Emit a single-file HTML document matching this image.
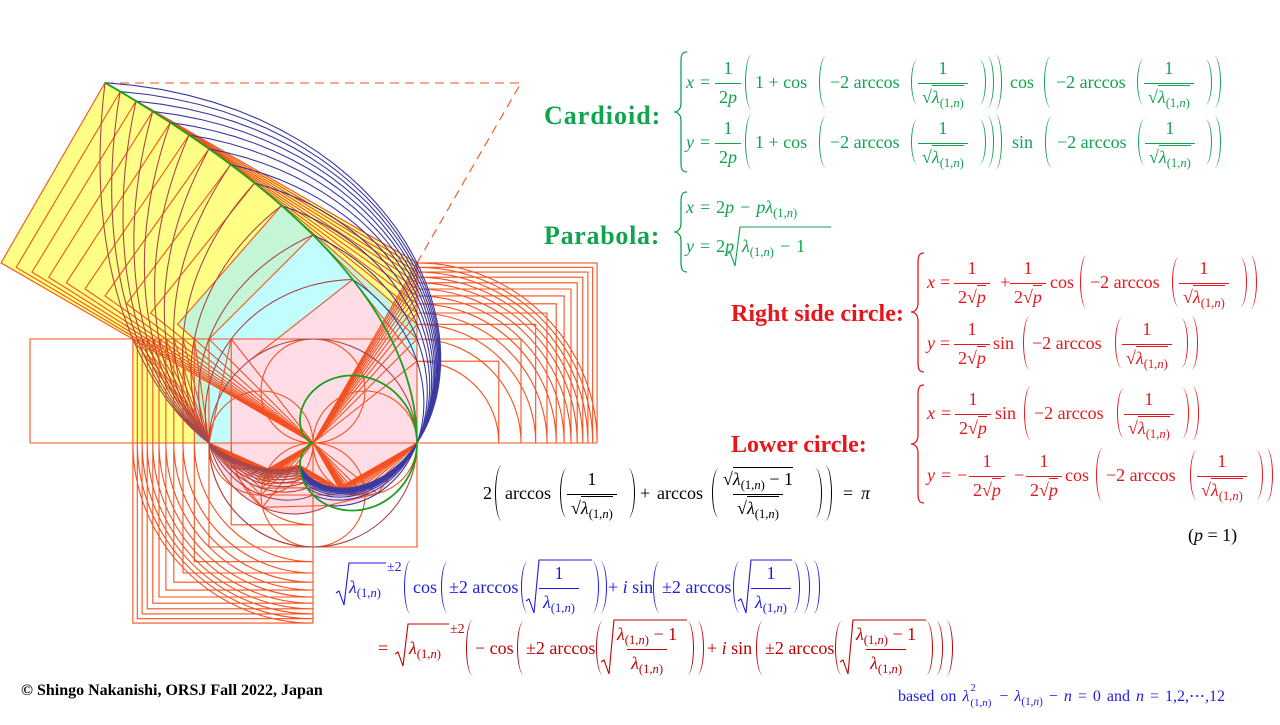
<!DOCTYPE html>
<html><head><meta charset="utf-8">
<style>
body{margin:0;background:#fff;width:1280px;height:720px;overflow:hidden;position:relative;font-family:"Liberation Serif","DejaVu Serif",serif}
#fig{position:absolute;left:0;top:0;width:1280px;height:720px}
.r{position:absolute;left:0;width:1280px;height:80px}
.a{position:absolute;top:0;height:80px;display:flex;align-items:center;white-space:nowrap;font-size:18px}
.F{display:flex;flex-direction:column;align-items:center}
.F>span{line-height:20px;padding:0 4px;white-space:nowrap}
.F>span:first-child{padding-bottom:5px}
.F>span:last-child{border-top:1px solid;padding-top:3px}
.l{display:inline-block;width:6px;border-left:1.4px solid;border-radius:100% 0 0 100%/50% 0 0 50%}
.q{display:inline-block;width:6px;border-right:1.4px solid;border-radius:0 100% 100% 0/0 50% 50% 0}
.h46{height:46px}.h50{height:50px}.h52{height:52px}.h54{height:54px}.h56{height:56px}
.ov{border-top:1px solid;padding-top:1px}
sub{font-size:70%;vertical-align:-4px;line-height:0}
.m{margin:0 6px}
.lab{position:absolute;font-weight:bold;line-height:30px;white-space:nowrap}
.G{color:#10a350}.R{color:#e8161b}.K{color:#000}.B{color:#1c1ce6}.D{color:#c00000}
.sup{position:absolute;font-size:14px;line-height:16px}
.ss{display:inline-block;position:relative;width:24px;height:12px;vertical-align:middle}
.ss .u{position:absolute;left:1px;top:-9px;font-size:11px;line-height:12px}
.ss .w{position:absolute;left:1px;top:6px;font-size:11px;line-height:12px}
</style></head>
<body>
<div id="fig"></div>
<svg width="1280" height="720" style="position:absolute;left:0;top:0" fill="none" stroke-width="1.3">
<path stroke="#10a350" d="M687 52 C682 52 681 55 681 62 L681 103 C681 109 678 112 674 112 C678 112 681 115 681 121 L681 162 C681 169 682 172 687 172"/>
<path stroke="#10a350" d="M687 192 C682 192 681 195 681 202 L681 223 C681 229 678 232 674 232 C678 232 681 235 681 241 L681 262 C681 269 682 272 687 272"/>
<path stroke="#e8161b" d="M924 253 C919 253 918 256 918 263 L918 303 C918 309 915 312 911 312 C915 312 918 315 918 321 L918 362 C918 369 919 372 924 372"/>
<path stroke="#e8161b" d="M924 385 C919 385 918 388 918 395 L918 435 C918 441 915 444 911 444 C915 444 918 447 918 453 L918 493 C918 500 919 503 924 503"/>
<path stroke="#10a350" stroke-width="1.1" d="M727 254 L730 252 L735 266 L740 227 L831 227"/>
<path stroke="#1c1ce6" stroke-width="1.1" d="M336 593 L339 591 L344 605 L349 563 L386 563"/>
<path stroke="#1c1ce6" stroke-width="1.1" d="M526 601 L529 599 L534 613 L539 560 L592 560"/>
<path stroke="#1c1ce6" stroke-width="1.1" d="M738 601 L741 599 L746 613 L751 560 L792 560"/>
<path stroke="#c00000" stroke-width="1.1" d="M395 654 L398 652 L403 666 L408 624 L449 624"/>
<path stroke="#c00000" stroke-width="1.1" d="M601 662 L604 660 L609 674 L614 620 L687 620"/>
<path stroke="#c00000" stroke-width="1.1" d="M840 662 L843 660 L848 674 L853 620 L926 620"/>
</svg>

<!-- Labels -->
<div class="lab G" style="left:544px;top:101px;font-size:26px;letter-spacing:1px">Cardioid:</div>
<div class="lab G" style="left:544px;top:221px;font-size:26px;letter-spacing:0.7px">Parabola:</div>
<div class="lab R" style="left:731px;top:299px;font-size:24px">Right side circle:</div>
<div class="lab R" style="left:731px;top:430px;font-size:24px">Lower circle:</div>

<!-- Cardioid row 1 -->
<div class="r G" style="top:42px">
<span class="a" style="left:686px"><i>x</i></span>
<span class="a" style="left:700px">=</span>
<span class="a" style="left:715px"><span class="F"><span>1</span><span>2<i>p</i></span></span></span>
<span class="a" style="left:745px"><span class="l h56"></span></span>
<span class="a" style="left:755px">1 + cos</span>
<span class="a" style="left:819px"><span class="l h52"></span></span>
<span class="a" style="left:830px">−2 arccos</span>
<span class="a" style="left:911px"><span class="l h46"></span></span>
<span class="a" style="left:918px"><span class="F"><span>1</span><span>√<span class="ov"><i>λ</i><sub>(1,<i>n</i>)</sub></span></span></span></span>
<span class="a" style="left:979px"><span class="q h46"></span></span>
<span class="a" style="left:987px"><span class="q h52"></span></span>
<span class="a" style="left:995px"><span class="q h56"></span></span>
<span class="a" style="left:1010px">cos</span>
<span class="a" style="left:1044px"><span class="l h52"></span></span>
<span class="a" style="left:1056px">−2 arccos</span>
<span class="a" style="left:1137px"><span class="l h46"></span></span>
<span class="a" style="left:1144px"><span class="F"><span>1</span><span>√<span class="ov"><i>λ</i><sub>(1,<i>n</i>)</sub></span></span></span></span>
<span class="a" style="left:1205px"><span class="q h46"></span></span>
<span class="a" style="left:1214px"><span class="q h52"></span></span>
</div>
<!-- Cardioid row 2 -->
<div class="r G" style="top:102px">
<span class="a" style="left:686px"><i>y</i></span>
<span class="a" style="left:700px">=</span>
<span class="a" style="left:715px"><span class="F"><span>1</span><span>2<i>p</i></span></span></span>
<span class="a" style="left:745px"><span class="l h56"></span></span>
<span class="a" style="left:755px">1 + cos</span>
<span class="a" style="left:819px"><span class="l h52"></span></span>
<span class="a" style="left:830px">−2 arccos</span>
<span class="a" style="left:911px"><span class="l h46"></span></span>
<span class="a" style="left:918px"><span class="F"><span>1</span><span>√<span class="ov"><i>λ</i><sub>(1,<i>n</i>)</sub></span></span></span></span>
<span class="a" style="left:979px"><span class="q h46"></span></span>
<span class="a" style="left:987px"><span class="q h52"></span></span>
<span class="a" style="left:995px"><span class="q h56"></span></span>
<span class="a" style="left:1012px">sin</span>
<span class="a" style="left:1045px"><span class="l h52"></span></span>
<span class="a" style="left:1057px">−2 arccos</span>
<span class="a" style="left:1138px"><span class="l h46"></span></span>
<span class="a" style="left:1145px"><span class="F"><span>1</span><span>√<span class="ov"><i>λ</i><sub>(1,<i>n</i>)</sub></span></span></span></span>
<span class="a" style="left:1205px"><span class="q h46"></span></span>
<span class="a" style="left:1214px"><span class="q h52"></span></span>
</div>

<!-- Parabola -->
<div class="r G" style="top:167px">
<span class="a" style="left:686px"><span><i>x</i><span class="m">=</span>2<i>p</i><span class="m">−</span><i>pλ</i><sub>(1,<i>n</i>)</sub></span></span>
</div>
<div class="r G" style="top:206px">
<span class="a" style="left:686px"><span><i>y</i><span class="m">=</span>2<i>p</i></span></span>
<span class="a" style="left:742px"><span><i>λ</i><sub>(1,<i>n</i>)</sub><span class="m">−</span>1</span></span>
</div>

<!-- Right side circle row 1 -->
<div class="r R" style="top:242px">
<span class="a" style="left:927px"><i>x</i></span>
<span class="a" style="left:940px">=</span>
<span class="a" style="left:954px"><span class="F"><span>1</span><span>2√<span class="ov"><i>p</i></span></span></span></span>
<span class="a" style="left:1000px">+</span>
<span class="a" style="left:1010px"><span class="F"><span>1</span><span>2√<span class="ov"><i>p</i></span></span></span></span>
<span class="a" style="left:1050px">cos</span>
<span class="a" style="left:1080px"><span class="l h54"></span></span>
<span class="a" style="left:1090px">−2 arccos</span>
<span class="a" style="left:1172px"><span class="l h50"></span></span>
<span class="a" style="left:1179px"><span class="F"><span>1</span><span>√<span class="ov"><i>λ</i><sub>(1,<i>n</i>)</sub></span></span></span></span>
<span class="a" style="left:1240px"><span class="q h50"></span></span>
<span class="a" style="left:1250px"><span class="q h54"></span></span>
</div>
<!-- Right side circle row 2 -->
<div class="r R" style="top:303px">
<span class="a" style="left:927px"><i>y</i></span>
<span class="a" style="left:940px">=</span>
<span class="a" style="left:954px"><span class="F"><span>1</span><span>2√<span class="ov"><i>p</i></span></span></span></span>
<span class="a" style="left:993px">sin</span>
<span class="a" style="left:1023px"><span class="l h54"></span></span>
<span class="a" style="left:1032px">−2 arccos</span>
<span class="a" style="left:1115px"><span class="l h50"></span></span>
<span class="a" style="left:1122px"><span class="F"><span>1</span><span>√<span class="ov"><i>λ</i><sub>(1,<i>n</i>)</sub></span></span></span></span>
<span class="a" style="left:1181px"><span class="q h50"></span></span>
<span class="a" style="left:1191px"><span class="q h54"></span></span>
</div>

<!-- Lower circle row 1 -->
<div class="r R" style="top:373px">
<span class="a" style="left:927px"><i>x</i></span>
<span class="a" style="left:941px">=</span>
<span class="a" style="left:955px"><span class="F"><span>1</span><span>2√<span class="ov"><i>p</i></span></span></span></span>
<span class="a" style="left:995px">sin</span>
<span class="a" style="left:1024px"><span class="l h54"></span></span>
<span class="a" style="left:1034px">−2 arccos</span>
<span class="a" style="left:1117px"><span class="l h50"></span></span>
<span class="a" style="left:1124px"><span class="F"><span>1</span><span>√<span class="ov"><i>λ</i><sub>(1,<i>n</i>)</sub></span></span></span></span>
<span class="a" style="left:1182px"><span class="q h50"></span></span>
<span class="a" style="left:1192px"><span class="q h54"></span></span>
</div>
<!-- Lower circle row 2 -->
<div class="r R" style="top:435px">
<span class="a" style="left:927px"><i>y</i></span>
<span class="a" style="left:941px">=</span>
<span class="a" style="left:957px">−</span>
<span class="a" style="left:969px"><span class="F"><span>1</span><span>2√<span class="ov"><i>p</i></span></span></span></span>
<span class="a" style="left:1014px">−</span>
<span class="a" style="left:1026px"><span class="F"><span>1</span><span>2√<span class="ov"><i>p</i></span></span></span></span>
<span class="a" style="left:1065px">cos</span>
<span class="a" style="left:1096px"><span class="l h54"></span></span>
<span class="a" style="left:1106px">−2 arccos</span>
<span class="a" style="left:1190px"><span class="l h50"></span></span>
<span class="a" style="left:1197px"><span class="F"><span>1</span><span>√<span class="ov"><i>λ</i><sub>(1,<i>n</i>)</sub></span></span></span></span>
<span class="a" style="left:1256px"><span class="q h50"></span></span>
<span class="a" style="left:1266px"><span class="q h54"></span></span>
</div>

<div class="r K" style="top:495px">
<span class="a" style="left:1188px"><span>(<i>p</i> = 1)</span></span>
</div>

<!-- Black identity -->
<div class="r K" style="top:453px">
<span class="a" style="left:483px">2</span>
<span class="a" style="left:495px"><span class="l h56"></span></span>
<span class="a" style="left:505px">arccos</span>
<span class="a" style="left:560px"><span class="l h50"></span></span>
<span class="a" style="left:567px"><span class="F"><span>1</span><span>√<span class="ov"><i>λ</i><sub>(1,<i>n</i>)</sub></span></span></span></span>
<span class="a" style="left:628px"><span class="q h50"></span></span>
<span class="a" style="left:640px">+</span>
<span class="a" style="left:657px">arccos</span>
<span class="a" style="left:712px"><span class="l h50"></span></span>
<span class="a" style="left:719px"><span class="F"><span>√<span class="ov"><i>λ</i><sub>(1,<i>n</i>)</sub> − 1</span></span><span>√<span class="ov"><i>λ</i><sub>(1,<i>n</i>)</sub></span></span></span></span>
<span class="a" style="left:815px"><span class="q h50"></span></span>
<span class="a" style="left:825px"><span class="q h56"></span></span>
<span class="a" style="left:843px">=</span>
<span class="a" style="left:861px"><i>π</i></span>
</div>

<!-- Blue formula -->
<div class="r B" style="top:547px">
<span class="a" style="left:349px"><span><i>λ</i><sub>(1,<i>n</i>)</sub></span></span>
<span class="a" style="left:404px"><span class="l h54"></span></span>
<span class="a" style="left:413px">cos</span>
<span class="a" style="left:441px"><span class="l h52"></span></span>
<span class="a" style="left:449px">±2 arccos</span>
<span class="a" style="left:521px"><span class="l h52"></span></span>
<span class="a" style="left:539px"><span class="F"><span>1</span><span><i>λ</i><sub>(1,<i>n</i>)</sub></span></span></span>
<span class="a" style="left:592px"><span class="q h52"></span></span>
<span class="a" style="left:600px"><span class="q h52"></span></span>
<span class="a" style="left:608px"><span>+ <i>i</i> sin</span></span>
<span class="a" style="left:653px"><span class="l h52"></span></span>
<span class="a" style="left:662px">±2 arccos</span>
<span class="a" style="left:733px"><span class="l h52"></span></span>
<span class="a" style="left:751px"><span class="F"><span>1</span><span><i>λ</i><sub>(1,<i>n</i>)</sub></span></span></span>
<span class="a" style="left:793px"><span class="q h52"></span></span>
<span class="a" style="left:803px"><span class="q h52"></span></span>
<span class="a" style="left:813px"><span class="q h54"></span></span>
</div>
<div class="sup B" style="left:387px;top:560px">±2</div>

<!-- Dark red formula -->
<div class="r D" style="top:608px">
<span class="a" style="left:378px">=</span>
<span class="a" style="left:409px"><span><i>λ</i><sub>(1,<i>n</i>)</sub></span></span>
<span class="a" style="left:466px"><span class="l h56"></span></span>
<span class="a" style="left:475px">− cos</span>
<span class="a" style="left:517px"><span class="l h54"></span></span>
<span class="a" style="left:526px">±2 arccos</span>
<span class="a" style="left:596px"><span class="l h54"></span></span>
<span class="a" style="left:613px"><span class="F"><span><i>λ</i><sub>(1,<i>n</i>)</sub> − 1</span><span><i>λ</i><sub>(1,<i>n</i>)</sub></span></span></span>
<span class="a" style="left:687px"><span class="q h54"></span></span>
<span class="a" style="left:697px"><span class="q h54"></span></span>
<span class="a" style="left:707px"><span>+ <i>i</i> sin</span></span>
<span class="a" style="left:756px"><span class="l h54"></span></span>
<span class="a" style="left:765px">±2 arccos</span>
<span class="a" style="left:835px"><span class="l h54"></span></span>
<span class="a" style="left:852px"><span class="F"><span><i>λ</i><sub>(1,<i>n</i>)</sub> − 1</span><span><i>λ</i><sub>(1,<i>n</i>)</sub></span></span></span>
<span class="a" style="left:926px"><span class="q h54"></span></span>
<span class="a" style="left:936px"><span class="q h54"></span></span>
<span class="a" style="left:946px"><span class="q h56"></span></span>
</div>
<div class="sup D" style="left:450px;top:622px">±2</div>

<!-- Footer -->
<div style="position:absolute;left:21px;top:681px;font-size:16px;font-weight:bold;line-height:19px;white-space:nowrap">© Shingo Nakanishi, ORSJ Fall 2022, Japan</div>
<div class="B" style="position:absolute;left:898px;top:686px;font-size:16px;line-height:22px;white-space:nowrap;word-spacing:2px">based on <i>λ</i><span class="ss"><span class="u">2</span><span class="w">(1,<i>n</i>)</span></span> − <i>λ</i><sub>(1,<i>n</i>)</sub> − <i>n</i> = 0 and <i>n</i> = 1,2,⋯,12</div>

<script>
(function(){
var U=104,OX=313,OY=443;
function X(x){return (OX+U*x).toFixed(1)}
function Y(y){return (OY-U*y).toFixed(1)}
function P(p){return X(p[0])+','+Y(p[1])}
function poly(a,c){return 'M'+a.map(P).join('L')+(c?'Z':'')}
var D=[];
for(var n=1;n<=12;n++){var l=(1+Math.sqrt(1+4*n))/2;D.push({n:n,l:l,s:Math.sqrt(l-1),ph:Math.acos(1/Math.sqrt(l))});}
function bl(d,t0,t1){var a=[];for(var k=0;k<=70;k++){var t=t0+(t1-t0)*k/70,r=Math.pow(d.l,t/2),g=t*d.ph;a.push([r*Math.cos(g),r*Math.sin(g)]);}return a;}
function br(d,t0,t1){var ps=Math.PI/2-d.ph,a=[];for(var k=0;k<=70;k++){var t=t0+(t1-t0)*k/70,r=Math.pow(d.l,t/2),g=-t*ps;a.push([-r*Math.cos(g),-r*Math.sin(g)]);}return a;}
function col(n){return n==1?'#ffdce6':n==2?'#c2fdfd':n==3?'#c4f5d4':'#ffff85'}
var h='';
for(var i=11;i>=0;i--){var d=D[i],s=d.s,c=col(d.n);
 h+='<path fill="'+c+'" d="'+poly([[0,0],[1,s],[1-s*s,2*s],[-s*s,s]],1)+'"/>';
 h+='<path fill="'+c+'" d="'+poly([[-s,0],[0,0],[0,1],[-s,1]],1)+'"/>';
 h+='<path fill="'+c+'" d="'+poly([[0,0],[1,0],[1,s]],1)+'"/>';
 h+='<path fill="'+c+'" d="'+poly(br(d,0,-2).concat(bl(d,-2,0)),1)+'"/>';
}
var L='';
for(var i=0;i<12;i++){var d=D[i],s=d.s,l=d.l;
 var Q=[1,s],Pn=[1-s*s,2*s],S=[-s*s,s],T=[-s,1];
 L+=poly([[0,0],Q,Pn,S],1);
 L+=poly([[0,0],T])+poly([[-1,0],T]);
 L+=poly([T,[-s,-s],[0,-s]]);
 L+=poly([Q,[1+s,s],[1+s,0]]);
 var rs=(U*s).toFixed(1);
 L+='M'+P([1,s])+'A'+rs+','+rs+' 0 0 1 '+P([1+s,0]);
 L+='M'+P([-s,0])+'A'+rs+','+rs+' 0 0 0 '+P([0,-s]);
 var iq=[1/l,-s/l],B=[-s/l,-1/l],C=[(1-s*s)/(l*l),-2*s/(l*l)];
 L+=poly([[0,0],iq,C,B],1)+poly([[-1,0],B])+poly([[1,0],iq]);
}
L+='M30,443L597,443M30,443L30,339L521,339M209,443L209,547L417,547L417,443M313,443L313,623M417,443L417,263';
var br1='',bl1='';
for(var i=0;i<12;i++){br1+=poly(br(D[i],-2,2));bl1+=poly(bl(D[i],-2,2));}
var par=[];for(var k=0;k<=60;k++){var y=2*Math.sqrt(3)*k/60;par.push([1-y*y/4,y]);}
var car=[];for(var k=0;k<=120;k++){var th=2*Math.PI*k/120,r=(1+Math.cos(th))/2;car.push([r*Math.cos(th),r*Math.sin(th)]);}
var svg='<svg width="1280" height="720" xmlns="http://www.w3.org/2000/svg">'+h+
'<g fill="none" stroke="#f4511e" stroke-width="1.1">'+
'<path d="'+L+'"/>'+
'<circle cx="313" cy="495" r="52"/><circle cx="313" cy="391" r="52"/><circle cx="365" cy="443" r="52"/><circle cx="261" cy="443" r="52"/>'+
'<path stroke-dasharray="9 6" d="M105,83L521,83L417,263"/></g>'+
'<circle cx="313" cy="443" r="104" fill="none" stroke="#a8474a" stroke-width="1.1"/>'+
'<path fill="none" stroke="#a8474a" stroke-width="1.1" d="'+br1+'"/>'+
'<path fill="none" stroke="#3a3aa0" stroke-width="1.1" d="'+bl1+'"/>'+
'<path fill="none" stroke="#1aa01a" stroke-width="1.8" d="'+poly(par)+poly(car,1)+'"/>'+
'</svg>';
document.getElementById('fig').innerHTML=svg;
})();
</script>
</body></html>
